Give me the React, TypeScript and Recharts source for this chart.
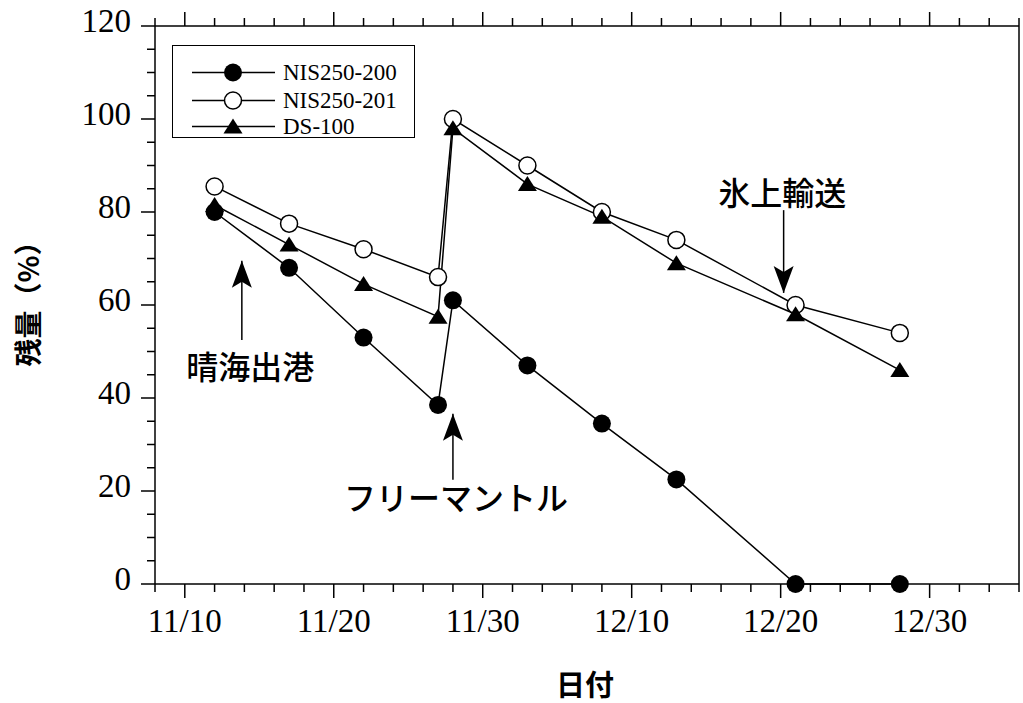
import React from 'react';
import {
  LineChart, Line, XAxis, YAxis, Legend, ReferenceLine, ReferenceDot,
} from 'recharts';

// ---------- data ----------
const dates = ['11/12', '11/17', '11/22', '11/27', '11/28', '12/3', '12/8', '12/13', '12/21', '12/28'];
const nis200 = [80, 68, 53, 38.5, 61, 47, 34.5, 22.5, 0, 0];
const nis201 = [85.5, 77.5, 72, 66, 100, 90, 80, 74, 60, 54];
const ds100 = [81.5, 73, 64.5, 57.5, 98, 86, 79, 69, 58, 46];

const xMajorTicks = [0, 10, 20, 30, 40, 50];
const xTickLabels = ['11/10', '11/20', '11/30', '12/10', '12/20', '12/30'];
const yMajorTicks = [0, 20, 40, 60, 80, 100, 120];

const seriesList = [
  { key: 'nis200', name: 'NIS250-200', marker: 'filled' },
  { key: 'nis201', name: 'NIS250-201', marker: 'open' },
  { key: 'ds100', name: 'DS-100', marker: 'tri' },
];

// annotations (data coordinates: x = days since 11/10, y = %)
const annoTexts = [
  { text: '晴海出港', x: 4.4, y: 47 },
  { text: 'フリーマントル', x: 18.2, y: 19 },
  { text: '氷上輸送', x: 40.1, y: 84.5 },
];
const annoArrows = [
  { x: 3.83, from: 52.5, to: 69.5 },
  { x: 18.0, from: 22.4, to: 36.6 },
  { x: 40.2, from: 80.4, to: 62.6 },
];

// ---------- helpers ----------
const toDay = (s: string) => {
  const [m, d] = s.split('/').map(Number);
  return m === 11 ? d - 10 : 20 + d;
};

const data = dates.map((d, i) => ({
  x: toDay(d),
  nis200: nis200[i],
  nis201: nis201[i],
  ds100: ds100[i],
}));

const xTicks: number[] = [];
for (let v = -2; v <= 56; v += 2) xTicks.push(v);
const yTicks: number[] = [];
for (let v = 0; v <= 120; v += 5) yTicks.push(v);

const SERIF = '"Liberation Serif", "Times New Roman", serif';
const CJK = '"Noto Sans CJK JP", "Noto Sans CJK SC", sans-serif';

const FilledDot = (p: any) => <circle cx={p.cx} cy={p.cy} r={9} fill="#000" />;
const OpenDot = (p: any) => (
  <circle cx={p.cx} cy={p.cy} r={8.5} fill="#fff" stroke="#000" strokeWidth={1.5} />
);
const TriDot = (p: any) => (
  <polygon
    points={`${p.cx},${p.cy - 8} ${p.cx + 9.5},${p.cy + 7} ${p.cx - 9.5},${p.cy + 7}`}
    fill="#000"
  />
);

const markerFor = (m: string) => (m === 'filled' ? FilledDot : m === 'open' ? OpenDot : TriDot);

const BottomTick = (p: any) => {
  const v = p.payload.value;
  const idx = xMajorTicks.indexOf(v);
  const major = idx >= 0;
  return (
    <g>
      <line x1={p.x} x2={p.x} y1={p.y} y2={p.y + (major ? 14 : 8)} stroke="#000" strokeWidth={1.5} />
      {major && (
        <text x={p.x} y={p.y + 48} textAnchor="middle" fontSize={33} fontFamily={SERIF} fill="#000">
          {xTickLabels[idx]}
        </text>
      )}
    </g>
  );
};

const TopTick = (p: any) => {
  const major = xMajorTicks.indexOf(p.payload.value) >= 0;
  return <line x1={p.x} x2={p.x} y1={p.y} y2={p.y - (major ? 14 : 8)} stroke="#000" strokeWidth={1.5} />;
};

const LeftTick = (p: any) => {
  const v = p.payload.value;
  const major = yMajorTicks.indexOf(v) >= 0;
  return (
    <g>
      <line x1={p.x - (major ? 14 : 8)} x2={p.x} y1={p.y} y2={p.y} stroke="#000" strokeWidth={1.5} />
      {major && (
        <text x={p.x - 24} y={p.y + 6} textAnchor="end" fontSize={33} fontFamily={SERIF} fill="#000">
          {v}
        </text>
      )}
    </g>
  );
};

const RightTick = (p: any) => {
  const major = yMajorTicks.indexOf(p.payload.value) >= 0;
  return <line x1={p.x} x2={p.x + (major ? 14 : 8)} y1={p.y} y2={p.y} stroke="#000" strokeWidth={1.5} />;
};

const LegendBox = () => {
  const rows = [28, 56, 82];
  return (
    <div
      style={{
        width: 243,
        height: 93,
        border: '1.5px solid #000',
        boxSizing: 'border-box',
        background: '#fff',
      }}
    >
      <svg width={240} height={90} style={{ display: 'block', overflow: 'visible' }}>
        {seriesList.map((s, i) => {
          const M = markerFor(s.marker);
          const y = rows[i] - 1.5;
          return (
            <g key={s.key}>
              <line x1={19} x2={102} y1={y} y2={y} stroke="#000" strokeWidth={1.5} />
              <M cx={60} cy={y} />
              <text x={110} y={y + 7.5} fontSize={23} fontFamily={SERIF} fill="#000">
                {s.name}
              </text>
            </g>
          );
        })}
      </svg>
    </div>
  );
};

const ArrowHead = (dir: 'up' | 'down') => (p: any) => {
  const s = dir === 'up' ? 1 : -1;
  const { cx, cy } = p;
  return (
    <path
      d={`M${cx},${cy} L${cx - 10},${cy + s * 27} L${cx},${cy + s * 21} L${cx + 10},${cy + s * 27} Z`}
      fill="#000"
    />
  );
};

const AnnoText = (text: string) => (p: any) => (
  <text
    x={p.cx}
    y={p.cy}
    textAnchor="middle"
    dominantBaseline="central"
    fontSize={32}
    fontFamily={CJK}
    fontWeight={500}
    fill="#000"
  >
    {text}
  </text>
);

export default function App() {
  return (
    <div style={{ position: 'absolute', left: 0, top: 0, background: '#fff' }}>
      <LineChart width={1023} height={703} data={data} margin={{ top: 0, right: 0, bottom: 0, left: 0 }}>
        <XAxis
          dataKey="x"
          type="number"
          domain={[-2, 56]}
          ticks={xTicks}
          interval={0}
          tickSize={0}
          tickMargin={0}
          tick={<BottomTick />}
          height={119}
          axisLine={{ stroke: '#000', strokeWidth: 1.5 }}
          tickLine={false}
          label={{
            content: (props: any) => {
              const vb = props.viewBox;
              return (
                <text
                  x={vb.x + vb.width / 2 - 2}
                  y={vb.y + 99}
                  textAnchor="middle"
                  dominantBaseline="central"
                  fontSize={29}
                  fontFamily={CJK}
                  fontWeight="bold"
                  fill="#000"
                >
                  日付
                </text>
              );
            },
          }}
        />
        <XAxis
          xAxisId="top"
          orientation="top"
          dataKey="x"
          type="number"
          domain={[-2, 56]}
          ticks={xTicks}
          interval={0}
          tickSize={0}
          tickMargin={0}
          tick={<TopTick />}
          height={26}
          axisLine={{ stroke: '#000', strokeWidth: 1.5 }}
          tickLine={false}
        />
        <YAxis
          type="number"
          domain={[0, 120]}
          ticks={yTicks}
          interval={0}
          tickSize={0}
          tickMargin={0}
          tick={<LeftTick />}
          width={155}
          axisLine={{ stroke: '#000', strokeWidth: 1.5 }}
          tickLine={false}
          label={{
            content: (props: any) => {
              const vb = props.viewBox;
              const cx = vb.x + 27;
              const cy = vb.y + vb.height / 2 - 8;
              return (
                <text
                  x={cx}
                  y={cy}
                  transform={`rotate(-90 ${cx} ${cy})`}
                  textAnchor="middle"
                  dominantBaseline="central"
                  fontSize={28}
                  fontFamily={CJK}
                  fontWeight="bold"
                  fill="#000"
                >
                  残量（%）
                </text>
              );
            },
          }}
        />
        <YAxis
          yAxisId="right"
          orientation="right"
          type="number"
          domain={[0, 120]}
          ticks={yTicks}
          interval={0}
          tickSize={0}
          tickMargin={0}
          tick={<RightTick />}
          width={4}
          axisLine={{ stroke: '#000', strokeWidth: 1.5 }}
          tickLine={false}
        />

        {annoArrows.map((a, i) => (
          <ReferenceLine
            key={`al${i}`}
            segment={[{ x: a.x, y: a.from }, { x: a.x, y: a.to }]}
            stroke="#000"
            strokeWidth={1.5}
          />
        ))}
        {annoArrows.map((a, i) => (
          <ReferenceDot
            key={`ah${i}`}
            x={a.x}
            y={a.to}
            r={0}
            shape={ArrowHead(a.to > a.from ? 'up' : 'down')}
          />
        ))}
        {annoTexts.map((t, i) => (
          <ReferenceDot key={`at${i}`} x={t.x} y={t.y} r={0} shape={AnnoText(t.text)} />
        ))}

        <Line
          dataKey="nis201"
          name="NIS250-201"
          type="linear"
          stroke="#000"
          strokeWidth={1.5}
          dot={OpenDot}
          isAnimationActive={false}
        />
        <Line
          dataKey="ds100"
          name="DS-100"
          type="linear"
          stroke="#000"
          strokeWidth={1.5}
          dot={TriDot}
          isAnimationActive={false}
        />
        <Line
          dataKey="nis200"
          name="NIS250-200"
          type="linear"
          stroke="#000"
          strokeWidth={1.5}
          dot={FilledDot}
          isAnimationActive={false}
        />
        <Legend
          layout="vertical"
          align="center"
          verticalAlign="middle"
          content={<LegendBox />}
          wrapperStyle={{ position: 'absolute', left: 172, top: 45, width: 243, height: 93 }}
        />
      </LineChart>
    </div>
  );
}
